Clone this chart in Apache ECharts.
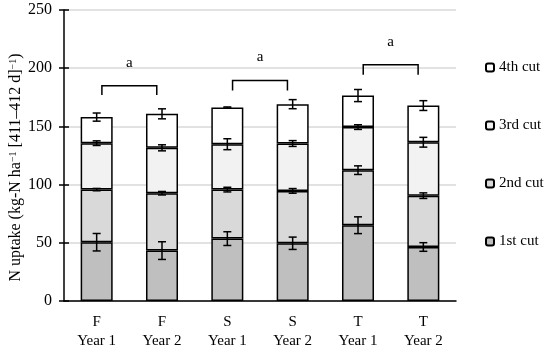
<!DOCTYPE html>
<html><head><meta charset="utf-8">
<script src="https://cdn.jsdelivr.net/npm/echarts@6/dist/echarts.min.js"></script>
<style>html,body{margin:0;padding:0;background:#fff}#c{width:550px;height:356px}</style>
</head><body><div id="c"></div>
<script>
const categories = ['F\nYear 1', 'F\nYear 2', 'S\nYear 1', 'S\nYear 2', 'T\nYear 1', 'T\nYear 2'];
const cutNames = ['1st cut', '2nd cut', '3rd cut', '4th cut'];
const cut1 = [50.5, 43.3, 53.6, 49.6, 65.1, 46.4];
const cut2 = [45.2, 49.3, 42.1, 45.0, 47.3, 44.1];
const cut3 = [39.9, 39.0, 39.0, 40.7, 37.0, 45.9];
const cut4 = [22.4, 29.2, 31.5, 33.8, 27.1, 31.5];
const err1 = [7.5, 7.6, 5.9, 5.3, 7.2, 3.7];
const err2 = [1.0, 1.5, 2.0, 2.0, 3.7, 2.4];
const err3 = [2.0, 2.6, 4.7, 2.5, 2.0, 4.2];
const err4 = [3.5, 4.3, 0.5, 3.9, 5.2, 4.2];
const bracketFrom = [0, 2, 4];
const bracketTo = [1, 3, 5];
const bracketTop = [185, 189.4, 203];
const bracketLeg = [177, 180.8, 194.3];
const bracketLabel = ['a', 'a', 'a'];
const yTicks = {min: 0, max: 250, interval: 50};

const FONT = 'Liberation Serif';
const fills = ['#bfbfbf', '#d9d9d9', '#f2f2f2', '#ffffff'];
const cuts = [cut1, cut2, cut3, cut4];
const errs = [err1, err2, err3, err4];

const barSeries = cuts.map((d, i) => ({
  name: cutNames[i], type: 'bar', stack: 'total', data: d, barWidth: '49%',
  itemStyle: {color: fills[i], borderColor: '#000', borderWidth: 1.5},
  emphasis: {disabled: true}, z: 2
}));

const errData = [];
const cum = categories.map(() => 0);
cuts.forEach((d, i) => {
  d.forEach((v, j) => { cum[j] += v; errData.push([j, cum[j], errs[i][j]]); });
});

const errSeries = {
  type: 'custom', data: errData, z: 5, clip: false, silent: true,
  encode: {x: 0, y: 1},
  renderItem: function (params, api) {
    const x = api.value(0), c = api.value(1), e = api.value(2);
    const hi = api.coord([x, c + e]), lo = api.coord([x, c - e]);
    const h = 4;
    const st = {stroke: '#000', lineWidth: 1.5};
    return {type: 'group', children: [
      {type: 'line', shape: {x1: hi[0], y1: hi[1], x2: lo[0], y2: lo[1]}, style: st},
      {type: 'line', shape: {x1: hi[0] - h, y1: hi[1], x2: hi[0] + h, y2: hi[1]}, style: st},
      {type: 'line', shape: {x1: lo[0] - h, y1: lo[1], x2: lo[0] + h, y2: lo[1]}, style: st}
    ]};
  }
};

const brData = bracketFrom.map((f, i) => [f, bracketTo[i], bracketTop[i], bracketLeg[i]]);
const bracketSeries = {
  type: 'custom', data: brData, z: 5, clip: false, silent: true,
  encode: {x: [0, 1], y: [2, 3]},
  renderItem: function (params, api) {
    const f = api.value(0), t = api.value(1), top = api.value(2), leg = api.value(3);
    const p1 = api.coord([f, top]), p2 = api.coord([t, top]), l = api.coord([f, leg]);
    const inset = api.size([1, 0])[0] * 0.08;
    return {type: 'group', children: [
      {type: 'polyline', shape: {points: [[p1[0] + inset, l[1]], [p1[0] + inset, p1[1]], [p2[0] - inset, p2[1]], [p2[0] - inset, l[1]]]},
        style: {stroke: '#000', lineWidth: 1.5, fill: null}},
      {type: 'text', x: (p1[0] + p2[0]) / 2, y: p1[1] - 23,
        style: {text: bracketLabel[params.dataIndex], fontSize: 15, fontFamily: FONT, fill: '#000', align: 'center', verticalAlign: 'middle'}}
    ]};
  }
};

const chart = echarts.init(document.getElementById('c'), null, {renderer: 'canvas'});
chart.setOption({
  animation: false,
  backgroundColor: '#fff',
  grid: {left: 64, right: 94, top: 10, bottom: 55, containLabel: false, outerBoundsMode: 'none'},
  legend: {
    data: ['4th cut', '3rd cut', '2nd cut', '1st cut'],
    orient: 'vertical', left: 480, top: 55, itemWidth: 8, itemHeight: 8, itemGap: 43,
    textStyle: {fontFamily: FONT, fontSize: 15, color: '#000'}, selectedMode: false
  },
  xAxis: [{
    type: 'category', data: categories, position: 'bottom',
    axisLine: {lineStyle: {color: '#000', width: 1.5}},
    axisTick: {length: 5, lineStyle: {color: '#000', width: 1.5}},
    axisLabel: {fontFamily: FONT, fontSize: 15, color: '#000', lineHeight: 19, margin: 12}
  }, {
    type: 'category', data: categories, position: 'bottom',
    axisLine: {show: false},
    axisTick: {inside: true, length: 5, lineStyle: {color: '#000', width: 1.5}},
    axisLabel: {show: false}
  }],
  yAxis: [{
    type: 'value', min: yTicks.min, max: yTicks.max, interval: yTicks.interval, position: 'left',
    name: 'N uptake (kg-N ha{s|−1} [411–412 d]{s|−1})',
    nameLocation: 'middle', nameGap: 40, nameMoveOverlap: false,
    nameTextStyle: {fontFamily: FONT, fontSize: 16, color: '#000', padding: [0, 24, 0, 0],
      rich: {s: {fontSize: 10, fontFamily: FONT, color: '#000', verticalAlign: 'top', padding: [0, 0, 6, 0]}}},
    axisLine: {show: true, lineStyle: {color: '#000', width: 1.5}},
    axisTick: {show: true, length: 5, lineStyle: {color: '#000', width: 1.5}},
    axisLabel: {fontFamily: FONT, fontSize: 16, color: '#000', margin: 12},
    splitLine: {lineStyle: {color: '#d9d9d9', width: 1.5}}
  }, {
    type: 'value', min: yTicks.min, max: yTicks.max, interval: yTicks.interval, position: 'left',
    axisLine: {show: false},
    axisTick: {show: true, inside: true, length: 5, lineStyle: {color: '#000', width: 1.5}},
    axisLabel: {show: false}, splitLine: {show: false}
  }],
  series: barSeries.concat([errSeries, bracketSeries])
});
</script></body></html>
